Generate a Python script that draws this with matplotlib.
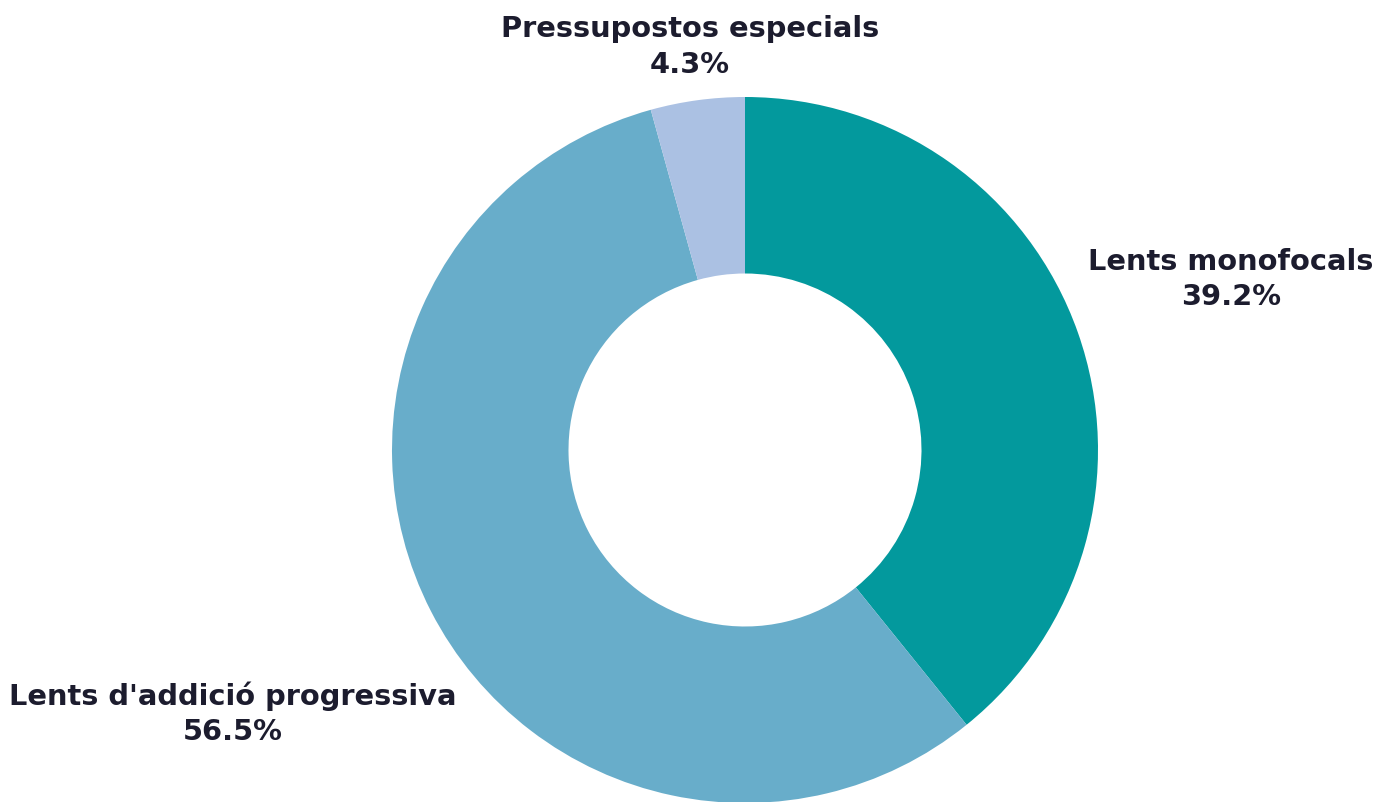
import numpy as np
import matplotlib.pyplot as plt

labels = ["Lents monofocals", "Lents d'addició progressiva", "Pressupostos especials"]
values = [39.2, 56.5, 4.3]
colors = ["#03999d", "#68adca", "#abc1e3"]

# how far from the centre each label sits (in radii)
label_dist = [1.46, 1.63, 1.155]

W, H = 1397, 803
fig = plt.figure(figsize=(W / 100, H / 100), dpi=100)
ax = fig.add_axes([0, 0, 1, 1])

cx, cy, r = 745, 352, 353
wedges, _ = ax.pie(values, colors=colors, startangle=90, counterclock=False,
                   center=(cx, cy), radius=r, frame=True,
                   wedgeprops=dict(width=r * 0.5, linewidth=0))
ax.set_xlim(0, W)
ax.set_ylim(0, H)
ax.set_aspect("equal")
ax.axis("off")

for w, lab, val, d in zip(wedges, labels, values, label_dist):
    ang = np.deg2rad((w.theta1 + w.theta2) / 2)
    x = cx + d * r * np.cos(ang)
    y = cy + d * r * np.sin(ang)
    ax.text(x, y, f"{lab}\n{val}%", ha="center", va="center",
            fontsize=20.8, fontweight="bold", family="DejaVu Sans",
            color="#1c1c2e", linespacing=1.35)

fig.savefig("out.png", dpi=100)
